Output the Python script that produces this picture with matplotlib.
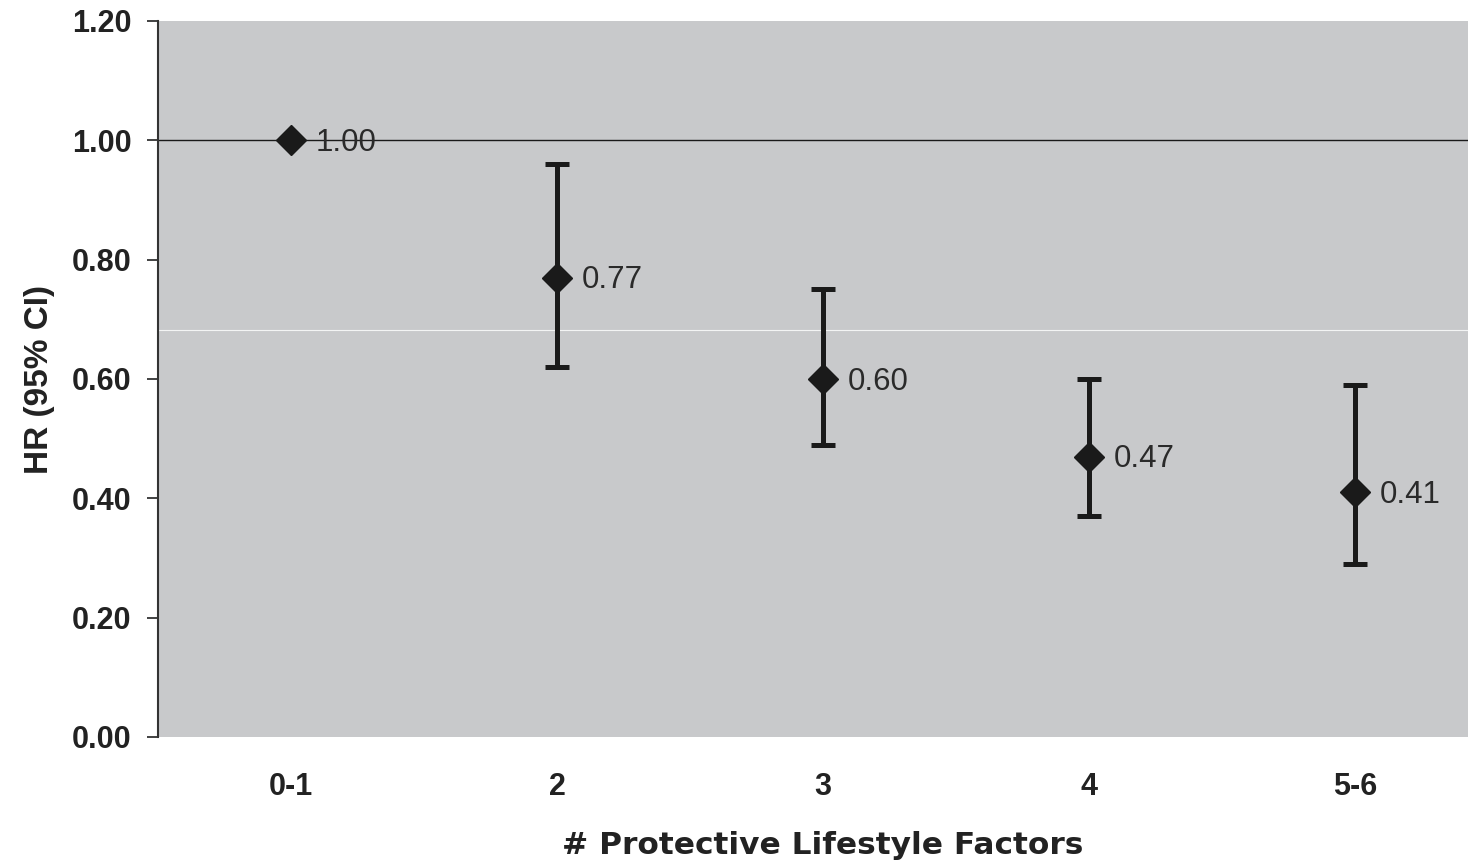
import matplotlib
matplotlib.use("Agg")
import matplotlib.pyplot as plt

categories = ["0-1", "2", "3", "4", "5-6"]
hr = [1.00, 0.77, 0.60, 0.47, 0.41]
ci_low = [None, 0.62, 0.49, 0.37, 0.29]
ci_high = [None, 0.96, 0.75, 0.60, 0.59]
yticks = [0.0, 0.2, 0.4, 0.6, 0.8, 1.0, 1.2]

plt.rcParams['font.family'] = ['Liberation Sans', 'DejaVu Sans']

fig = plt.figure(figsize=(14.68, 8.64), dpi=100)
ax = fig.add_axes([158/1468, 1-737/864, 1330/1468, (737-21)/864])
ax.set_facecolor('#c8c9cb')
ax.set_xlim(-0.5, 4.5)
ax.set_ylim(0, 1.2)

ax.axhline(1.0, color='#1a1a1a', lw=1.0, zorder=1)
ax.axhline(0.682, color='white', lw=0.8, alpha=0.8, zorder=1)

x = list(range(len(categories)))
for i in x:
    if ci_low[i] is not None:
        ax.errorbar([i], [hr[i]], yerr=[[hr[i]-ci_low[i]], [ci_high[i]-hr[i]]],
                    fmt='none', ecolor='#1a1a1a', elinewidth=3.6, capsize=8.3,
                    capthick=3.6, zorder=2)
ax.plot(x, hr, linestyle='none', marker='D', markersize=15, color='#1a1a1a', zorder=3)

for i in x:
    ax.annotate(f"{hr[i]:.2f}", (i, hr[i]), xytext=(18, -2), textcoords='offset points',
                va='center', ha='left', fontsize=22.5, color='#2a2a2a', zorder=4)

ax.set_xticks(x)
ax.set_xticklabels(categories, fontsize=22, fontweight='bold', color='#222222')
ax.set_yticks(yticks)
ax.set_yticklabels([f"{v:.2f}" for v in yticks], fontsize=22, fontweight='bold', color='#222222')
ax.tick_params(axis='x', length=0, pad=25)
ax.tick_params(axis='y', length=8, width=1.3, color='#333333', pad=11)

for s in ['top', 'right', 'bottom']:
    ax.spines[s].set_visible(False)
ax.spines['left'].set_color('#333333')
ax.spines['left'].set_linewidth(1.5)

ax.set_ylabel("HR (95% CI)", fontsize=24, fontweight='bold', color='#222222', labelpad=12)
fig.text((565+1080)/2/1468, 1-846/864, "# Protective Lifestyle Factors", fontsize=22.5,
         fontweight='bold', color='#222222', ha='center', va='center',
         family=['DejaVu Sans'])

fig.savefig("out.png", dpi=100)
